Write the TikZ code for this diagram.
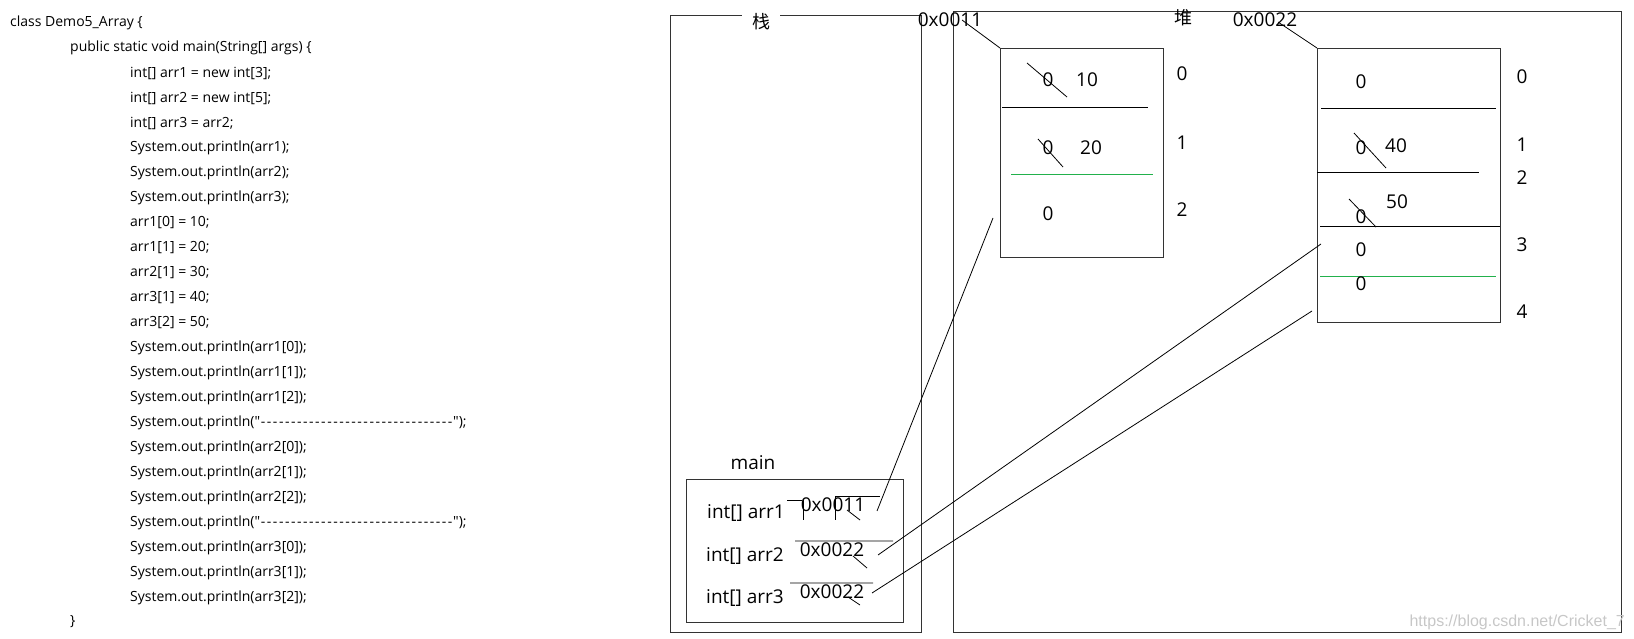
\documentclass[tikz,border=0pt]{standalone}
\usepackage{fontspec}
\setmainfont{Open Sans}
\newfontfamily\codefont{Open Sans}
\newfontfamily\cjkfont{Noto Sans CJK SC}
\newfontfamily\markfont{Liberation Sans}
\definecolor{cutgreen}{RGB}{34,177,76}
\newcommand\dashrun{\foreach \d in {1,...,32}{\makebox[6.03pt]{-}}}
\tikzset{
  code/.style={anchor=west,inner sep=0pt,font=\codefont\fontsize{14}{16}\selectfont},
  lbl/.style={inner sep=0pt,font=\codefont\fontsize{19}{22}\selectfont},
  hanzi/.style={inner sep=0pt,font=\cjkfont\fontsize{18}{20}\selectfont},
  frame/.style={draw=black!80,line width=1.2pt,inner sep=0pt,anchor=north west},
  cut/.style={line width=0.8pt},
  link/.style={line width=0.8pt}
}
\begin{document}
\begin{tikzpicture}[x=1pt,y=-1pt]
\useasboundingbox (0,0) rectangle (1634,639);
\node[code] (cls) at (10,23) {class Demo5\_Array \{};
\node[code] (mth) at (70,48) {public static void main(String[] args) \{};
\foreach \s [count=\i] in {{int[] arr1 = new int[3];},{int[] arr2 = new int[5];},{int[] arr3 = arr2;},
  {System.out.println(arr1);},{System.out.println(arr2);},{System.out.println(arr3);},
  {arr1[0] = 10;},{arr1[1] = 20;},{arr2[1] = 30;},{arr3[1] = 40;},{arr3[2] = 50;},
  {System.out.println(arr1[0]);},{System.out.println(arr1[1]);},{System.out.println(arr1[2]);},
  {System.out.println("\dashrun");},
  {System.out.println(arr2[0]);},{System.out.println(arr2[1]);},{System.out.println(arr2[2]);},
  {System.out.println("\dashrun");},
  {System.out.println(arr3[0]);},{System.out.println(arr3[1]);},{System.out.println(arr3[2]);}}
  \node[code] (ln\i) at (130,48+25*\i) {\s};
\node[code] (mthend) at (70,622) {\}};

\node[frame,minimum width=251pt,minimum height=617pt] (stack) at (670,15) {};
\node[hanzi,fill=white,minimum width=38pt,minimum height=16pt] (stacklbl) at (761,22) {栈};
\node[frame,minimum width=668pt,minimum height=621pt] (heap) at (953,11) {};
\node[hanzi] (heaplbl) at (1183,18) {堆};

\node[frame,minimum width=217pt,minimum height=143pt] (mainbox) at (686,479) {};
\node[lbl] (mainlbl) at (753,463) {main};
\node[lbl] (v1) at (746,513) {int[] arr1};
\node[lbl] (v2) at (745,556) {int[] arr2};
\node[lbl] (v3) at (745,598) {int[] arr3};
\node[lbl] (a1) at (833,505) {0x0011};
\node[lbl] (a2) at (832,550) {0x0022};
\node[lbl] (a3) at (832,592) {0x0022};
\draw[cut] (787,500) -- (802,500) (803,500) -- (803,520) (835,496) -- (835,520) (835,496) -- (880,496);
\draw[cut] (847,510) -- (860,520);
\draw[cut] (795,541) -- (893,541) (853,556) -- (867,568);
\draw[cut] (790,583) -- (873,583) (848,597) -- (860,605);

\node[frame,minimum width=163pt,minimum height=209pt] (arrA) at (1000,48) {};
\node[lbl] (hA) at (950,20) {0x0011};
\draw[link] (962,20) -- (arrA.north west);
\draw[cut] (1002,107) -- (1148,107);
\draw[cut,cutgreen] (1011,174) -- (1153,174);
\node[lbl] (eA0) at (1048,80) {0};
\node[lbl] (nA0) at (1087,80) {10};
\node[lbl] (eA1) at (1048,148) {0};
\node[lbl] (nA1) at (1091,148) {20};
\node[lbl] (eA2) at (1048,214) {0};
\draw[cut] (1027,63) -- (1067,97) (1038,139) -- (1063,167);
\foreach \k/\y in {0/74,1/143,2/210}
  \node[lbl] (iA\k) at (1182,\y) {\k};

\node[frame,minimum width=183pt,minimum height=274pt] (arrB) at (1317,48) {};
\node[lbl] (hB) at (1265,20) {0x0022};
\draw[link] (1278,22) -- (arrB.north west);
\draw[cut] (1321,108) -- (1496,108) (1317,172) -- (1479,172) (1320,226) -- (1500,226);
\draw[cut,cutgreen] (1320,276) -- (1496,276);
\node[lbl] (eB0) at (1361,82) {0};
\node[lbl] (eB1) at (1361,148) {0};
\node[lbl] (nB1) at (1396,146) {40};
\node[lbl] (nB2) at (1397,202) {50};
\node[lbl] (eB2) at (1361,217) {0};
\node[lbl] (eB3) at (1361,250) {0};
\node[lbl] (eB4) at (1361,284) {0};
\draw[cut] (1354,133) -- (1386,168) (1349,199) -- (1376,227);
\foreach \k/\y in {0/77,1/145,2/178,3/245,4/312}
  \node[lbl] (iB\k) at (1522,\y) {\k};

\coordinate (p1) at (877,511);
\coordinate (p2) at (878,555);
\coordinate (p3) at (872,593);
\coordinate (q1) at (993,218);
\coordinate (q2) at (1321,244);
\coordinate (q3) at (1312,311);
\draw[link] (p1) -- (q1);
\draw[link] (p2) -- (q2);
\draw[link] (p3) -- (q3);

\node[anchor=east,inner sep=0pt,text=black!22,font=\markfont\fontsize{16}{18}\selectfont] (mark) at (1625,622) {https://blog.csdn.net/Cricket\_7};
\end{tikzpicture}
\end{document}
